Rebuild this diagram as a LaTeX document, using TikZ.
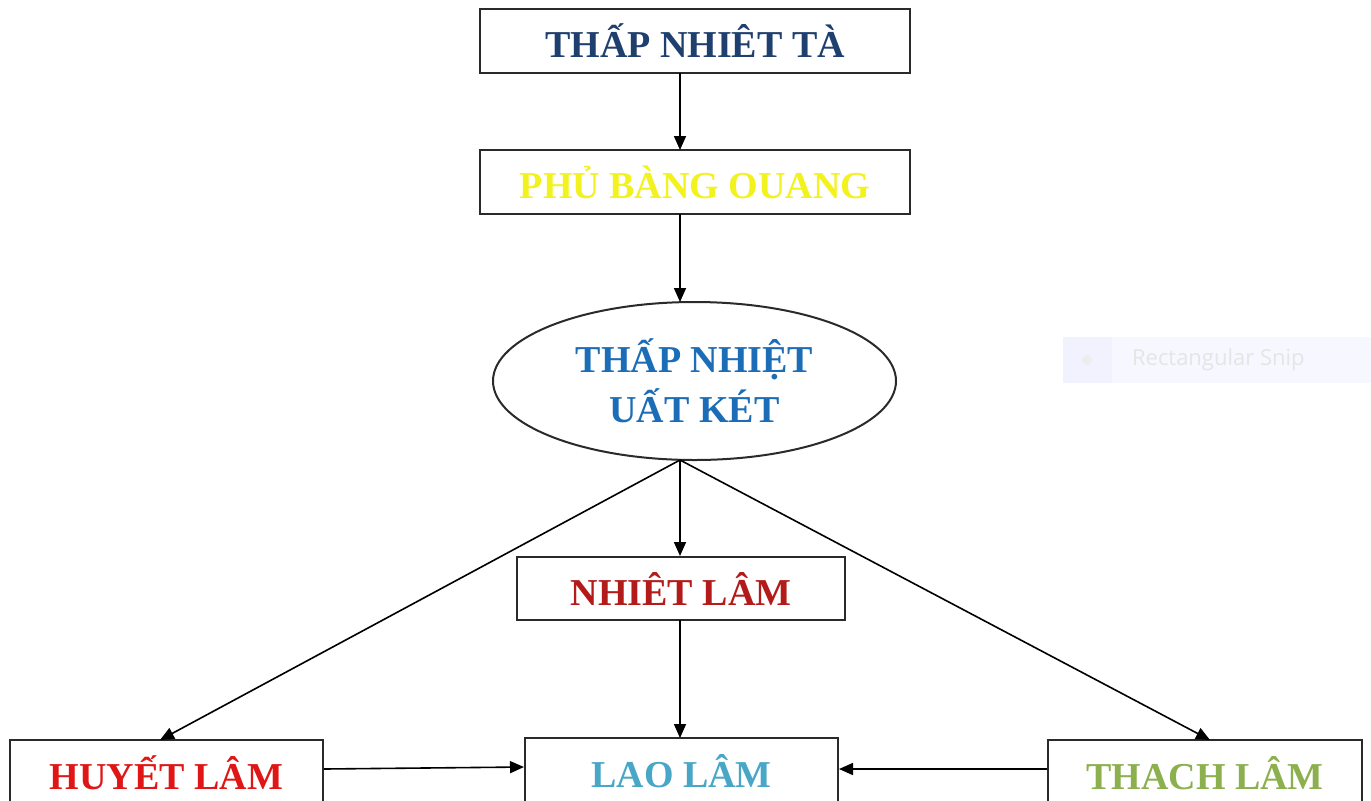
\documentclass[tikz,border=0pt]{standalone}
\usepackage{fontspec}
\setmainfont{Liberation Serif}
\newfontfamily\snipfont{Open Sans}
\usetikzlibrary{shapes.geometric,arrows.meta}
\definecolor{cTop}{HTML}{1F3F6E}
\definecolor{cPhu}{HTML}{F2F21E}
\definecolor{cEll}{HTML}{1A6DB6}
\definecolor{cNhiet}{HTML}{B31B1B}
\definecolor{cHuyet}{HTML}{E01515}
\definecolor{cLao}{HTML}{48A6C6}
\definecolor{cThach}{HTML}{8CB04E}
\definecolor{cLine}{HTML}{2A2A2A}
\tikzset{
  box/.style={draw=cLine, line width=1pt, fill=white, inner sep=0pt, font=\bfseries\fontsize{19}{22}\selectfont},
  oval/.style={ellipse, draw=cLine, line width=1pt, fill=white, inner sep=0pt, align=center, font=\bfseries\fontsize{19}{25}\selectfont},
  arr/.style={draw=black, line width=0.8pt, -{Triangle[length=7pt,width=6pt]}},
}
\begin{document}
\begin{tikzpicture}[x=0.5pt,y=-0.5pt]
\useasboundingbox[fill=white] (0,0) rectangle (1371,800);
% screenshot overlay
\fill[color=blue!3] (1063,337) rectangle (1371,383);
\fill[color=blue!5] (1063,337) rectangle (1112,383);
\node[circle, fill=black!7, minimum size=5pt, inner sep=0pt] (snipdot) at (1087,360) {};
\node[anchor=west, text=black!10, font=\snipfont\fontsize{11}{13}\selectfont] (sniptext) at (1125,360) {Rectangular Snip};
% nodes
\node[box, minimum width=215pt, minimum height=32pt, text=cTop] (top) at (695,41) {THẤP NHIÊT TÀ};
\node[box, minimum width=215pt, minimum height=32pt, text=cPhu] (phu) at (695,182) {PHỦ BÀNG OUANG};
\node[oval, minimum width=201.5pt, minimum height=79pt, text=cEll] (ell) at (694.5,381) {THẤP NHIỆT\\UẤT KÉT};
\node[box, minimum width=164pt, minimum height=31.5pt, text=cNhiet] (nhiet) at (681,588.5) {NHIÊT LÂM};
\node[box, minimum width=156.5pt, minimum height=33pt, text=cHuyet] (huyet) at (166.5,773) {HUYẾT LÂM};
\node[box, minimum width=156.5pt, minimum height=33pt, text=cLao] (lao) at (681.5,771) {LAO LÂM};
\node[box, minimum width=157pt, minimum height=33pt, text=cThach] (thach) at (1205,773) {THACH LÂM};
% connectors
\coordinate (t1) at (680,73);
\coordinate (t2) at (680,150);
\coordinate (p1) at (680,214);
\coordinate (p2) at (680,302);
\coordinate (e1) at (680,460);
\coordinate (hy) at (160,740);
\coordinate (th) at (1210,740);
\coordinate (n1) at (680,620);
\coordinate (l1) at (680,738);
\draw[arr] (t1) -- (t2);
\draw[arr] (p1) -- (p2);
\draw[arr] (e1) -- (nhiet.north -| e1);
\draw[arr] (e1) -- (hy);
\draw[arr] (e1) -- (th);
\draw[arr] (n1) -- (l1);
\draw[arr] (huyet.east |- 0,769) -- (lao.west |- 0,767);
\draw[arr] (thach.west |- 0,769) -- (lao.east |- 0,769);
\end{tikzpicture}
\end{document}
